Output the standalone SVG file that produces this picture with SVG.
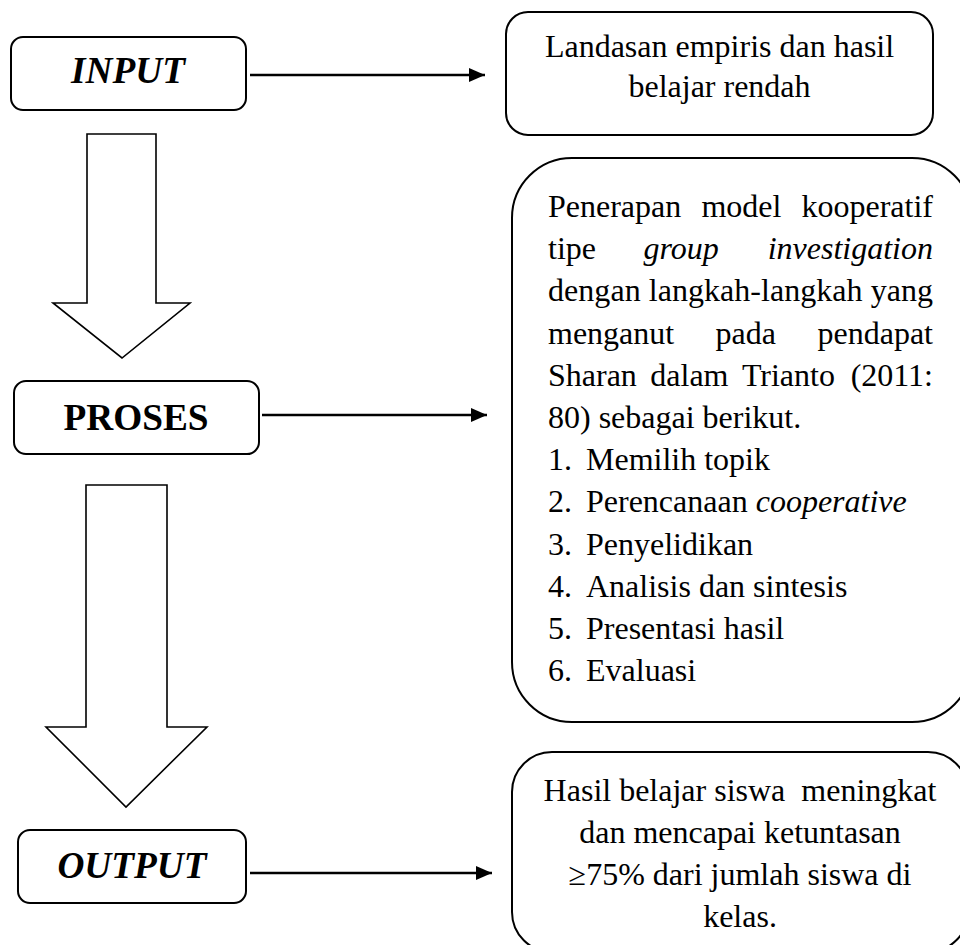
<svg xmlns="http://www.w3.org/2000/svg" width="960" height="945" viewBox="0 0 960 945">
<defs>
<style>
.box{fill:#fff;stroke:#000;stroke-width:2}
.big{fill:#fff;stroke:#000;stroke-width:1.6;stroke-linejoin:miter}
.conn{stroke:#000;stroke-width:2.5;fill:none}
.t{font-family:"Liberation Serif","Times New Roman",serif;font-size:32px;fill:#000}
.h{font-family:"Liberation Serif","Times New Roman",serif;font-size:37.3px;font-weight:bold;fill:#000}
.i{font-style:italic}
.c{text-anchor:middle}
.e{text-anchor:end}
</style>
<marker id="ah" markerUnits="userSpaceOnUse" markerWidth="16" markerHeight="16" viewBox="0 0 16 16" refX="16" refY="8" orient="auto">
<path d="M0,1 L16,8 L0,15 Z" fill="#000"/>
</marker>
</defs>

<g id="input">
<rect class="box" x="11" y="37" width="235" height="73" rx="12"/>
<text class="h i c" x="128" y="83">INPUT</text>
</g>

<g id="proses">
<rect class="box" x="14" y="381" width="245" height="73" rx="12"/>
<text class="h c" x="136" y="430">PROSES</text>
</g>

<g id="output">
<rect class="box" x="18" y="830" width="228" height="73" rx="12"/>
<text class="h i c" x="132" y="878">OUTPUT</text>
</g>

<g id="landasan">
<rect class="box" x="506" y="12" width="427" height="123" rx="22"/>
<text class="t c" x="719.5" y="57">Landasan empiris dan hasil</text>
<text class="t c" x="719.5" y="97">belajar rendah</text>
</g>

<g id="penerapan">
<rect class="box" x="512" y="158" width="460" height="564" rx="60"/>
<text class="t" x="548" y="217">Penerapan</text>
<text class="t" x="701.4" y="217">model</text>
<text class="t e" x="933" y="217">kooperatif</text>
<text class="t" x="548" y="259.2">tipe</text>
<text class="t i" x="643.6" y="259.2">group</text>
<text class="t i e" x="933" y="259.2">investigation</text>
<text class="t" x="548" y="301.4" textLength="385" lengthAdjust="spacing">dengan langkah-langkah yang</text>
<text class="t" x="548" y="343.6">menganut</text>
<text class="t" x="715.6" y="343.6">pada</text>
<text class="t e" x="933" y="343.6">pendapat</text>
<text class="t" x="548" y="385.8">Sharan</text>
<text class="t" x="650.3" y="385.8">dalam</text>
<text class="t" x="741.9" y="385.8">Trianto</text>
<text class="t e" x="933" y="385.8">(2011:</text>
<text class="t" x="548" y="428">80) sebagai berikut.</text>
<text class="t" x="548" y="470.2">1.</text><text class="t" x="586" y="470.2">Memilih topik</text>
<text class="t" x="548" y="512.4">2.</text><text class="t" x="586" y="512.4">Perencanaan <tspan class="i">cooperative</tspan></text>
<text class="t" x="548" y="554.6">3.</text><text class="t" x="586" y="554.6">Penyelidikan</text>
<text class="t" x="548" y="596.8">4.</text><text class="t" x="586" y="596.8">Analisis dan sintesis</text>
<text class="t" x="548" y="639">5.</text><text class="t" x="586" y="639">Presentasi hasil</text>
<text class="t" x="548" y="681.2">6.</text><text class="t" x="586" y="681.2">Evaluasi</text>
</g>

<g id="hasil">
<rect class="box" x="512" y="752" width="456" height="200" rx="40"/>
<text class="t c" x="740" y="801" style="white-space:pre">Hasil belajar siswa  meningkat</text>
<text class="t c" x="740" y="843">dan mencapai ketuntasan</text>
<text class="t c" x="740" y="885">≥75% dari jumlah siswa di</text>
<text class="t c" x="740" y="927">kelas.</text>
</g>

<g id="connectors">
<line class="conn" x1="250" y1="75" x2="485" y2="75" marker-end="url(#ah)"/>
<line class="conn" x1="262" y1="415" x2="487" y2="415" marker-end="url(#ah)"/>
<line class="conn" x1="250" y1="873" x2="492" y2="873" marker-end="url(#ah)"/>
<path class="big" d="M87,134 L156,134 L156,303 L190,303 L122,358 L53,303 L87,303 Z"/>
<path class="big" d="M86,485 L167,485 L167,727 L207,727 L126,807 L46,727 L86,727 Z"/>
</g>
</svg>
